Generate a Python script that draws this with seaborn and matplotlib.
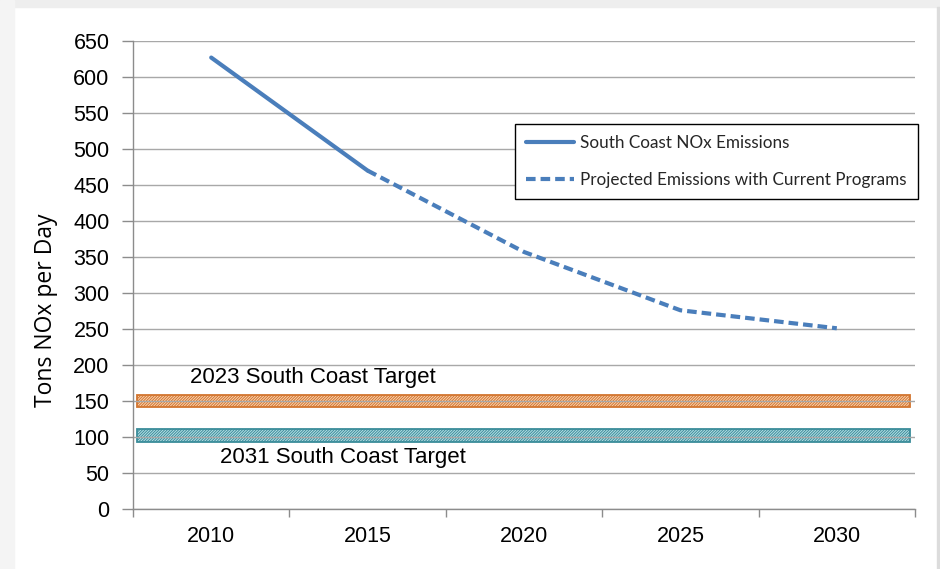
import numpy as np
import pandas as pd
import matplotlib
matplotlib.use("Agg")
import matplotlib.pyplot as plt
import seaborn as sns
from matplotlib.lines import Line2D
from matplotlib.patches import Rectangle
from matplotlib.colors import LinearSegmentedColormap

# ---------------- data ----------------
years = [2010, 2015, 2020, 2025, 2030]
actual_years = [2010, 2015]
actual_emissions = [627, 470]
projected_years = [2015, 2020, 2025, 2030]
projected_emissions = [470, 357, 276, 251]
target_names = ["2023 South Coast Target", "2031 South Coast Target"]
target_levels = [150, 102]
y_ticks = list(range(0, 651, 50))
series_names = ["South Coast NOx Emissions", "Projected Emissions with Current Programs"]

# ---------------- style ----------------
sns.set_theme(style="white")
plt.rcParams['font.family'] = ['Liberation Sans', 'DejaVu Sans']
plt.rcParams["hatch.linewidth"] = 0.7

W, H = 940, 569
fig = plt.figure(figsize=(W / 100, H / 100), dpi=100)
fig.patch.set_facecolor("white")

# slide-like background decoration
bg = fig.add_axes([0, 0, 1, 1], zorder=-10)
bg.axis("off")
bg.add_patch(Rectangle((0, 0), W, 7, color="#eeeeee"))
bg.add_patch(Rectangle((0, 0), 14, H, color="#f4f4f4"))
bg.add_patch(Rectangle((937, 7), 3, H, color="#dcdcdc"))
grad = np.linspace(0, 1, 64)
cm_dark = LinearSegmentedColormap.from_list("g", ["#858585", "#eeeeee"])
bg.imshow(grad[None, :], extent=[105, 170, 7, 0], cmap=cm_dark, aspect="auto")
bg.imshow(grad[:, None], extent=[0, 14, 205, 145], cmap=cm_dark, aspect="auto", origin="upper")
bg.set_xlim(0, W)
bg.set_ylim(H, 0)

# main axes
ax = fig.add_axes([133 / W, 1 - 509 / H, (915 - 133) / W, (509 - 41) / H])
ax.set_facecolor("none")

blue = "#4a7ebb"
dash = (0, (2.3, 1.2))
df_a = pd.DataFrame({"year": actual_years, "nox": actual_emissions})
df_p = pd.DataFrame({"year": projected_years, "nox": projected_emissions})
sns.lineplot(data=df_a, x="year", y="nox", ax=ax, color=blue, lw=3.0, zorder=3)
sns.lineplot(data=df_p, x="year", y="nox", ax=ax, color=blue, lw=3.0,
             linestyle=dash, zorder=3)

# target bands
band_styles = [("#fbd3b0", "#d2752f"), ("#b9e0e6", "#3a8c9a")]
for lvl, (fc, ec) in zip(target_levels, band_styles):
    ax.barh(lvl, width=24.7, left=2007.63, height=18, color=fc, edgecolor=ec,
            hatch="////////////", linewidth=1.3, zorder=1)
ax.text(2009.32, 182, target_names[0], fontsize=16, va="center", color="black")
ax.text(2010.28, 71, target_names[1], fontsize=16, va="center", color="black")

# axes formatting
ax.set_xlim(2007.5, 2032.5)
ax.set_ylim(0, 650)
ax.set_xticks(years)
ax.set_xticklabels([str(y) for y in years])
ax.set_xticks(np.arange(2007.5, 2033, 5), minor=True)
ax.set_yticks(y_ticks)
ax.set_yticklabels([str(v) for v in y_ticks])
ax.tick_params(axis="x", which="major", length=0, pad=12, labelsize=15.5, colors="black")
ax.tick_params(axis="x", which="minor", length=6, width=1, color="#8c8c8c", direction="out", bottom=True)
ax.tick_params(axis="y", length=8, width=1, color="#8c8c8c", direction="out", pad=9,
               labelsize=15.5, colors="black", left=True)
ax.yaxis.grid(True, color="#a8a8a8", lw=1)
ax.set_axisbelow("line")
for s in ["top", "right"]:
    ax.spines[s].set_visible(False)
for s in ["left", "bottom"]:
    ax.spines[s].set_color("#8c8c8c")
    ax.spines[s].set_linewidth(1)
ax.set_xlabel("")
ax.set_ylabel("Tons NOx per Day", fontsize=16.5, family=["Open Sans", "DejaVu Sans"], color="black")
ax.yaxis.set_label_coords(-0.096, 0.425)

handles = [Line2D([], [], color=blue, lw=3.0),
           Line2D([], [], color=blue, lw=3.0, linestyle=dash)]
leg = ax.legend(handles, series_names, loc="upper left",
                bbox_to_anchor=(515 / W, 1 - 124 / H), bbox_transform=fig.transFigure,
                frameon=True, fancybox=False, edgecolor="black", framealpha=1,
                prop={"family": ["Lato", "DejaVu Sans"], "size": 12.3},
                handlelength=2.8, handletextpad=0.35, labelspacing=1.2,
                borderpad=0.65, borderaxespad=0)
leg.get_frame().set_linewidth(1)

fig.savefig("out.png", dpi=100)
